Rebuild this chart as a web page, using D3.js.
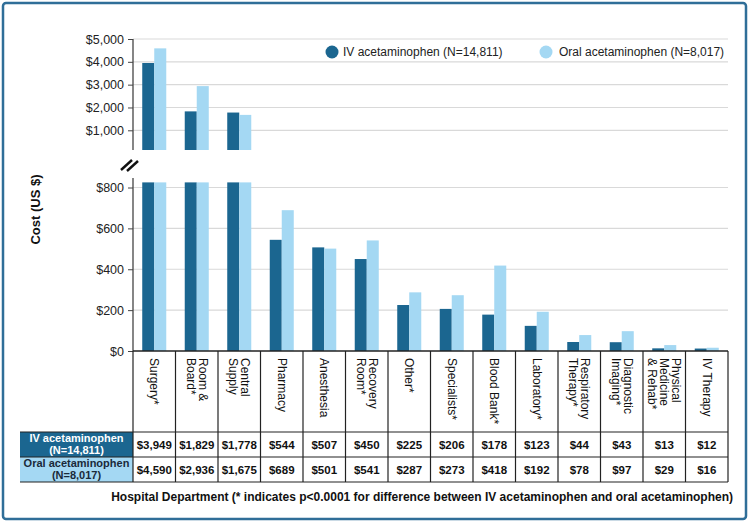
<!DOCTYPE html>
<html><head><meta charset="utf-8">
<script src="https://cdn.jsdelivr.net/npm/d3@7"></script>
<style>
html,body{margin:0;padding:0;background:#fff;}
svg{display:block;font-family:"Liberation Sans",Arial,sans-serif;}
</style></head>
<body><div id="chart"></div>
<script>
// ---- data ----
const categories = ["Surgery*","Room &\nBoard*","Central\nSupply","Pharmacy","Anesthesia","Recovery\nRoom*","Other*","Specialists*","Blood Bank*","Laboratory*","Respiratory\nTherapy*","Diagnostic\nImaging*","Physical\nMedicine\n& Rehab*","IV Therapy"];
const ivValues   = [3949,1829,1778,544,507,450,225,206,178,123,44,43,13,12];
const oralValues = [4590,2936,1675,689,501,541,287,273,418,192,78,97,29,16];
const seriesNames = ["IV acetaminophen (N=14,811)","Oral acetaminophen (N=8,017)"];
const rowLabels = [["IV acetaminophen","(N=14,811)"],["Oral acetaminophen","(N=8,017)"]];
const topTicks = [1000,2000,3000,4000,5000];
const bottomTicks = [0,200,400,600,800];
const yTitle = "Cost (US $)";
const xTitle = "Hospital Department (* indicates p<0.0001 for difference between IV acetaminophen and oral acetaminophen)";

const colors = ["#1b6690","#a4d8f3"];
const W = 750, H = 523;
const svg = d3.select("#chart").append("svg").attr("width",W).attr("height",H);

// outer border
svg.append("rect").attr("x",3).attr("y",3).attr("width",743).attr("height",516)
  .attr("rx",3).attr("fill","none").attr("stroke","#2f6e98").attr("stroke-width",2.5);

const left = 133, right = 728;
const x = d3.scaleBand().domain(d3.range(categories.length)).range([left,right])
  .paddingInner(0.435).paddingOuter(0.2175);
const xs = d3.scaleBand().domain([0,1]).range([0,x.bandwidth()]);
const step = x.step();

const yTop = d3.scaleLinear().domain([1000,5000]).range([130.3,39]);
const topBase = 150;
const yBot = d3.scaleLinear().domain([0,800]).range([351,187.5]);
const botCap = 825;

const fmt = d3.format("$,");

// gridlines
svg.append("g").selectAll("line").data(topTicks).join("line")
  .attr("x1",left).attr("x2",right).attr("y1",d=>yTop(d)).attr("y2",d=>yTop(d))
  .attr("stroke","#d9d9d9").attr("stroke-width",1.2);
svg.append("g").selectAll("line").data(bottomTicks.filter(d=>d>0)).join("line")
  .attr("x1",left).attr("x2",right).attr("y1",d=>yBot(d)).attr("y2",d=>yBot(d))
  .attr("stroke","#d9d9d9").attr("stroke-width",1.2);

const data = categories.map((c,i)=>({i, vals:[ivValues[i], oralValues[i]]}));

// bars
const g = svg.append("g");
data.forEach(d=>{
  d.vals.forEach((v,s)=>{
    const bx = x(d.i)+xs(s);
    // bottom panel
    const vb = Math.min(v, botCap);
    g.append("rect").attr("x",bx).attr("width",xs.bandwidth())
      .attr("y",yBot(vb)).attr("height",yBot(0)-yBot(vb)).attr("fill",colors[s]);
    if (v > botCap) {
      g.append("rect").attr("x",bx).attr("width",xs.bandwidth())
        .attr("y",yTop(v)).attr("height",topBase-yTop(v)).attr("fill",colors[s]);
    }
  });
});

// axes
const axTop = svg.append("g").attr("transform",`translate(${left},0)`)
  .call(d3.axisLeft(yTop).tickValues(topTicks).tickFormat(fmt).tickSize(5).tickPadding(4));
const axBot = svg.append("g").attr("transform",`translate(${left},0)`)
  .call(d3.axisLeft(yBot).tickValues(bottomTicks).tickFormat(fmt).tickSize(5).tickPadding(4));
[axTop,axBot].forEach(a=>{
  a.select(".domain").remove();
  a.selectAll("text").attr("font-size",12.5).attr("fill","#222").attr("font-family","Liberation Sans, Arial, sans-serif");
  a.selectAll("line").attr("stroke","#444");
});
svg.append("line").attr("x1",left).attr("x2",left).attr("y1",yTop(5000)).attr("y2",topBase)
  .attr("stroke","#444").attr("stroke-width",1.3);
svg.append("line").attr("x1",left).attr("x2",left).attr("y1",178).attr("y2",yBot(0))
  .attr("stroke","#444").attr("stroke-width",1.3);

// break marks
const brk = svg.append("g").attr("stroke","#111").attr("stroke-width",2.4);
brk.append("line").attr("x1",121).attr("y1",170).attr("x2",132).attr("y2",160);
brk.append("line").attr("x1",127).attr("y1",171).attr("x2",138).attr("y2",161);

// legend
const lg = svg.append("g");
[[332,343],[546,559]].forEach((p,s)=>{
  lg.append("circle").attr("cx",p[0]).attr("cy",52).attr("r",6.5).attr("fill",colors[s]);
  lg.append("text").attr("x",p[1]).attr("y",52).attr("dy","0.35em").attr("font-size",12)
    .attr("fill","#222").text(seriesNames[s]);
});

// y title
svg.append("text").attr("transform","translate(35,209.5) rotate(-90)")
  .attr("text-anchor","middle").attr("dy","0.35em").attr("font-size",13).attr("font-weight","bold")
  .attr("fill","#111").text(yTitle);

// table
const tTop = 351, r1 = 432, r2 = 457, r3 = 482, labL = 20;
const tb = svg.append("g");
// row label boxes
tb.append("rect").attr("x",labL).attr("y",r1).attr("width",left-labL).attr("height",r2-r1).attr("fill",colors[0]);
tb.append("rect").attr("x",labL).attr("y",r2).attr("width",left-labL).attr("height",r3-r2).attr("fill",colors[1]);
rowLabels.forEach((lines,s)=>{
  const y0 = s===0 ? r1 : r2;
  lines.forEach((t,k)=>{
    tb.append("text").attr("x",(labL+left)/2).attr("y",y0+6.5+k*12).attr("dy","0.35em")
      .attr("text-anchor","middle").attr("font-size",11).attr("font-weight","bold")
      .attr("fill", s===0 ? "#fff" : "#1a2a3a").text(t);
  });
});
// grid lines of table
const bounds = d3.range(categories.length+1).map(i=>left+i*step);
tb.selectAll("line.v").data(bounds).join("line").attr("class","v")
  .attr("x1",d=>d).attr("x2",d=>d).attr("y1",tTop).attr("y2",r3)
  .attr("stroke","#222").attr("stroke-width",1.2);
[r1,r2,r3].forEach(yy=>{
  tb.append("line").attr("x1",labL).attr("x2",right).attr("y1",yy).attr("y2",yy)
    .attr("stroke","#222").attr("stroke-width",1.2);
});
tb.append("line").attr("x1",left).attr("x2",right).attr("y1",tTop).attr("y2",tTop)
  .attr("stroke","#222").attr("stroke-width",1.4);

// category labels (rotated)
const lineH = 12;
data.forEach(d=>{
  const cx = x(d.i)+x.bandwidth()/2;
  const lines = categories[d.i].split("\n");
  const n = lines.length;
  const t = tb.append("text").attr("transform",`translate(${cx},${tTop+7}) rotate(90)`)
    .attr("font-size",12).attr("fill","#111");
  lines.forEach((ln,k)=>{
    t.append("tspan").attr("x",0).attr("y",(k-(n-1)/2)*lineH).attr("dy","0.35em").text(ln);
  });
});
// values
[ivValues, oralValues].forEach((arr,s)=>{
  const cy = s===0 ? 445 : 469.5;
  tb.selectAll(null).data(arr).join("text")
    .attr("x",(d,i)=>x(i)+x.bandwidth()/2).attr("y",cy).attr("dy","0.35em")
    .attr("text-anchor","middle").attr("font-size",11.5).attr("font-weight","bold").attr("fill","#111")
    .text(d=>fmt(d));
});

// x title
svg.append("text").attr("x",733).attr("y",497).attr("dy","0.35em").attr("text-anchor","end")
  .attr("font-size",12).attr("font-weight","bold").attr("fill","#111").text(xTitle);
</script></body></html>
